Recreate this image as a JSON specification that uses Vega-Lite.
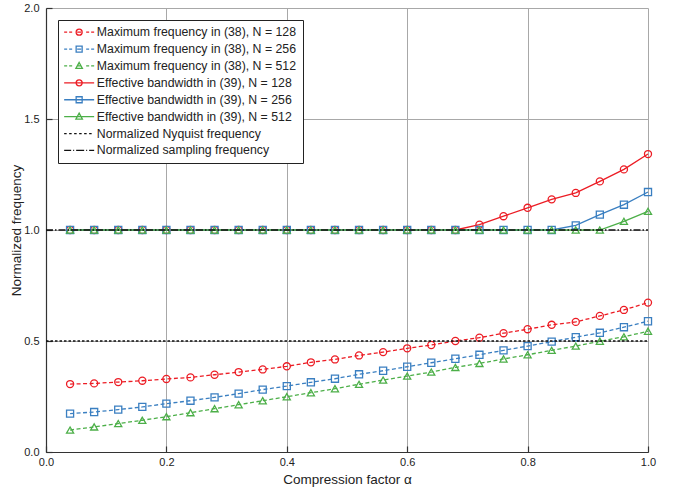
{
  "$schema": "https://vega.github.io/schema/vega-lite/v6.json",
  "autosize": {"type": "none"},
  "padding": {"left": 46, "top": 8, "right": 30, "bottom": 37},
  "width": 602,
  "height": 444,
  "background": "white",
  "datasets": {
    "curves": [
      {"a": 0.04, "M128": 0.306, "M256": 0.173, "M512": 0.099, "E128": 1, "E256": 1, "E512": 1},
      {"a": 0.08, "M128": 0.309, "M256": 0.180, "M512": 0.113, "E128": 1, "E256": 1, "E512": 1},
      {"a": 0.12, "M128": 0.315, "M256": 0.191, "M512": 0.128, "E128": 1, "E256": 1, "E512": 1},
      {"a": 0.16, "M128": 0.321, "M256": 0.203, "M512": 0.143, "E128": 1, "E256": 1, "E512": 1},
      {"a": 0.20, "M128": 0.329, "M256": 0.218, "M512": 0.159, "E128": 1, "E256": 1, "E512": 1},
      {"a": 0.24, "M128": 0.336, "M256": 0.231, "M512": 0.177, "E128": 1, "E256": 1, "E512": 1},
      {"a": 0.28, "M128": 0.348, "M256": 0.246, "M512": 0.195, "E128": 1, "E256": 1, "E512": 1},
      {"a": 0.32, "M128": 0.360, "M256": 0.263, "M512": 0.213, "E128": 1, "E256": 1, "E512": 1},
      {"a": 0.36, "M128": 0.372, "M256": 0.281, "M512": 0.231, "E128": 1, "E256": 1, "E512": 1},
      {"a": 0.40, "M128": 0.386, "M256": 0.297, "M512": 0.249, "E128": 1, "E256": 1, "E512": 1},
      {"a": 0.44, "M128": 0.404, "M256": 0.314, "M512": 0.267, "E128": 1, "E256": 1, "E512": 1},
      {"a": 0.48, "M128": 0.417, "M256": 0.330, "M512": 0.285, "E128": 1, "E256": 1, "E512": 1},
      {"a": 0.52, "M128": 0.435, "M256": 0.350, "M512": 0.305, "E128": 1, "E256": 1, "E512": 1},
      {"a": 0.56, "M128": 0.450, "M256": 0.366, "M512": 0.324, "E128": 1, "E256": 1, "E512": 1},
      {"a": 0.60, "M128": 0.467, "M256": 0.384, "M512": 0.342, "E128": 1, "E256": 1, "E512": 1},
      {"a": 0.64, "M128": 0.482, "M256": 0.402, "M512": 0.360, "E128": 1, "E256": 1, "E512": 1},
      {"a": 0.68, "M128": 0.500, "M256": 0.420, "M512": 0.381, "E128": 1, "E256": 1, "E512": 1},
      {"a": 0.72, "M128": 0.515, "M256": 0.438, "M512": 0.399, "E128": 1.024, "E256": 1, "E512": 1},
      {"a": 0.76, "M128": 0.535, "M256": 0.458, "M512": 0.419, "E128": 1.062, "E256": 1, "E512": 1},
      {"a": 0.80, "M128": 0.553, "M256": 0.477, "M512": 0.438, "E128": 1.100, "E256": 1, "E512": 1},
      {"a": 0.84, "M128": 0.573, "M256": 0.497, "M512": 0.458, "E128": 1.138, "E256": 1, "E512": 1},
      {"a": 0.88, "M128": 0.586, "M256": 0.517, "M512": 0.477, "E128": 1.167, "E256": 1.021, "E512": 1},
      {"a": 0.92, "M128": 0.613, "M256": 0.537, "M512": 0.499, "E128": 1.219, "E256": 1.069, "E512": 1},
      {"a": 0.96, "M128": 0.640, "M256": 0.562, "M512": 0.519, "E128": 1.273, "E256": 1.114, "E512": 1.039},
      {"a": 1.00, "M128": 0.673, "M256": 0.589, "M512": 0.544, "E128": 1.342, "E256": 1.171, "E512": 1.084},
      {"a": 0, "NY": 0.5, "SF": 1},
      {"a": 1, "NY": 0.5, "SF": 1}
    ],
    "names": [
      {"key": "M128", "series": "Maximum frequency in (38), N = 128"},
      {"key": "M256", "series": "Maximum frequency in (38), N = 256"},
      {"key": "M512", "series": "Maximum frequency in (38), N = 512"},
      {"key": "E128", "series": "Effective bandwidth in (39), N = 128"},
      {"key": "E256", "series": "Effective bandwidth in (39), N = 256"},
      {"key": "E512", "series": "Effective bandwidth in (39), N = 512"},
      {"key": "NY", "series": "Normalized Nyquist frequency"},
      {"key": "SF", "series": "Normalized sampling frequency"}
    ]
  },
  "data": {"name": "curves"},
  "transform": [
    {"fold": ["M128", "M256", "M512", "E128", "E256", "E512", "NY", "SF"]},
    {"filter": "isValid(datum.value)"},
    {"lookup": "key", "from": {"data": {"name": "names"}, "key": "key", "fields": ["series"]}}
  ],
  "encoding": {
    "x": {
      "field": "a", "type": "quantitative",
      "scale": {"domain": [0, 1], "nice": false, "zero": false},
      "axis": {"title": "Compression factor α", "values": [0, 0.2, 0.4, 0.6, 0.8, 1], "format": ".1f", "labelPadding": 10, "titlePadding": 5}
    },
    "y": {
      "field": "value", "type": "quantitative",
      "scale": {"domain": [0, 2], "nice": false},
      "axis": {"title": "Normalized frequency", "values": [0, 0.5, 1, 1.5, 2], "format": ".1f", "labelPadding": 13, "titlePadding": 0}
    },
    "color": {
      "field": "series", "type": "nominal",
      "scale": {
        "domain": ["Maximum frequency in (38), N = 128", "Maximum frequency in (38), N = 256", "Maximum frequency in (38), N = 512", "Effective bandwidth in (39), N = 128", "Effective bandwidth in (39), N = 256", "Effective bandwidth in (39), N = 512", "Normalized Nyquist frequency", "Normalized sampling frequency"],
        "range": ["#ec1c24", "#3a7fc1", "#4caf48", "#ec1c24", "#3a7fc1", "#4caf48", "#111111", "#111111"]
      },
      "legend": {
        "title": null,
        "orient": "none",
        "legendX": 12,
        "legendY": 12,
        "fillColor": "white",
        "strokeColor": "#222222",
        "padding": 6,
        "labelFontSize": 12.3,
        "labelColor": "#222222",
        "labelOffset": 11.5,
        "labelLimit": 0,
        "symbolSize": 100,
        "symbolOffset": 9,
        "symbolStrokeWidth": 1.3,
        "rowPadding": 3.9,
        "encode": {
          "symbols": {
            "update": {
              "shape": {"signal": "(indexof(datum.value,'Maximum')==0 ? 'M-3,0L-2.4,0M-2,0L-1.4,0M-0.4,0L0.4,0M1.4,0L2,0M2.4,0L3,0' : indexof(datum.value,'Effective')==0 ? 'M-3,0L3,0' : indexof(datum.value,'Nyquist')>=0 ? 'M-3,0L-2.5,0M-2,0L-1.5,0M-1,0L-0.5,0M0,0L0.5,0M1,0L1.5,0M2,0L2.5,0' : 'M-3,0L-1.6,0M-1.2,0L-1,0M-0.6,0L1,0M1.4,0L1.6,0M2,0L3,0') + (indexof(datum.value,'128')>=0 ? 'M0.6,0A0.6,0.6 0 1,1 -0.6,0A0.6,0.6 0 1,1 0.6,0' : indexof(datum.value,'256')>=0 ? 'M-0.6,-0.6L0.6,-0.6L0.6,0.6L-0.6,0.6Z' : indexof(datum.value,'512')>=0 ? 'M0,-0.7L0.65,0.5L-0.65,0.5Z' : '')"},
              "fill": {"value": "transparent"}
            }
          }
        }
      }
    }
  },
  "layer": [
    {
      "transform": [{"filter": "indexof(datum.key, 'M') == 0"}],
      "mark": {"type": "line", "strokeWidth": 1.3, "strokeDash": [4, 2.5]}
    },
    {
      "transform": [{"filter": "indexof(datum.key, 'E') == 0"}],
      "mark": {"type": "line", "strokeWidth": 1.3}
    },
    {
      "transform": [{"filter": "datum.key != 'NY' && datum.key != 'SF'"}],
      "mark": {"type": "point", "filled": false, "size": 50, "strokeWidth": 1.3, "opacity": 1},
      "encoding": {
        "shape": {
          "field": "series", "type": "nominal", "legend": null,
          "scale": {
            "domain": ["Maximum frequency in (38), N = 128", "Maximum frequency in (38), N = 256", "Maximum frequency in (38), N = 512", "Effective bandwidth in (39), N = 128", "Effective bandwidth in (39), N = 256", "Effective bandwidth in (39), N = 512"],
            "range": ["circle", "square", "triangle-up", "circle", "square", "triangle-up"]
          }
        }
      }
    },
    {
      "transform": [{"filter": "datum.key == 'NY'"}],
      "mark": {"type": "line", "strokeWidth": 1.3, "strokeDash": [2.5, 2]}
    },
    {
      "transform": [{"filter": "datum.key == 'SF'"}],
      "mark": {"type": "line", "strokeWidth": 1.3, "strokeDash": [7, 2, 1.5, 2]}
    }
  ],
  "config": {
    "font": "Liberation Sans",
    "view": {"stroke": null},
    "axis": {
      "grid": true,
      "gridColor": "#a8a8a8",
      "gridWidth": 1,
      "domainColor": "#333333",
      "domainWidth": 1.2,
      "tickColor": "#333333",
      "tickSize": -6,
      "tickWidth": 1.2,
      "labelFontSize": 11,
      "labelColor": "#222222",
      "labelFlush": false,
      "titleFontSize": 13.5,
      "titleFontWeight": "normal",
      "titleColor": "#222222"
    }
  }
}
